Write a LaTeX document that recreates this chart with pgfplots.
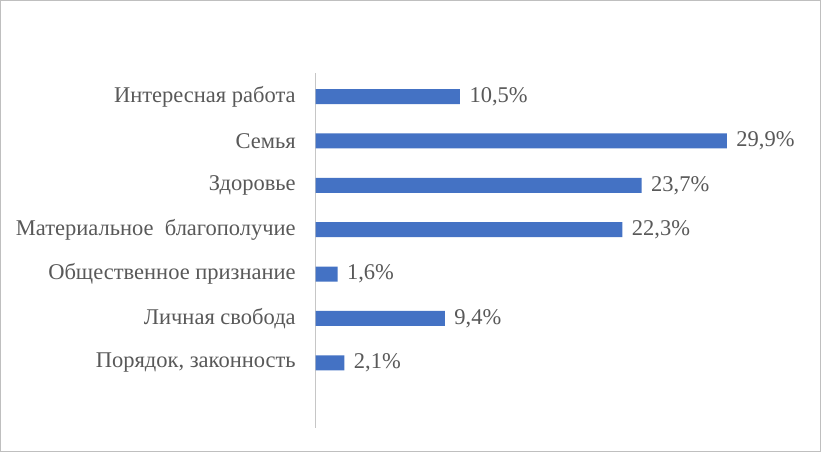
\documentclass[border=0pt]{standalone}
\usepackage{fontspec}
\setmainfont{Liberation Serif}
\usepackage{pgfplots}
\pgfplotsset{compat=1.18}
\definecolor{barblue}{HTML}{4472C4}
\definecolor{txt}{HTML}{595959}
\begin{document}
\begin{tikzpicture}[x=1pt,y=1pt]
\draw[draw=gray!50, line width=1pt, fill=white] (0.5,0.5) rectangle (820.5,451.5);
\begin{axis}[
  at={(315.5pt,24pt)}, anchor=south west,
  scale only axis, width=412.8pt, height=355pt,
  xmin=0, xmax=30, ymin=-0.53, ymax=7.47, y dir=reverse,
  axis x line=none, axis y line=left,
  y axis line style={-, draw=gray!45, line width=1.2pt},
  ytick={0,1,2,3,4,5,6},
  yticklabels={Интересная работа, Семья, Здоровье, Материальное\ \ благополучие, Общественное признание, Личная свобода, {Порядок, законность}},
  ytick style={draw=none},
  yticklabel style={font=\fontsize{22.5}{25}\selectfont, text=txt, xshift=-12pt},
  xbar, bar width=15pt,
  nodes near coords={\pgfmathprintnumber[fixed,fixed zerofill,precision=1,use comma,assume math mode=true]{\pgfplotspointmeta}\%},
  every node near coord/.append style={font=\fontsize{22.5}{25}\selectfont, text=txt, xshift=6pt},
  clip=false,
]
\addplot[fill=barblue, draw=none] coordinates {(10.5,0) (29.9,1) (23.7,2) (22.3,3) (1.6,4) (9.4,5) (2.1,6)};
\end{axis}
\end{tikzpicture}
\end{document}
